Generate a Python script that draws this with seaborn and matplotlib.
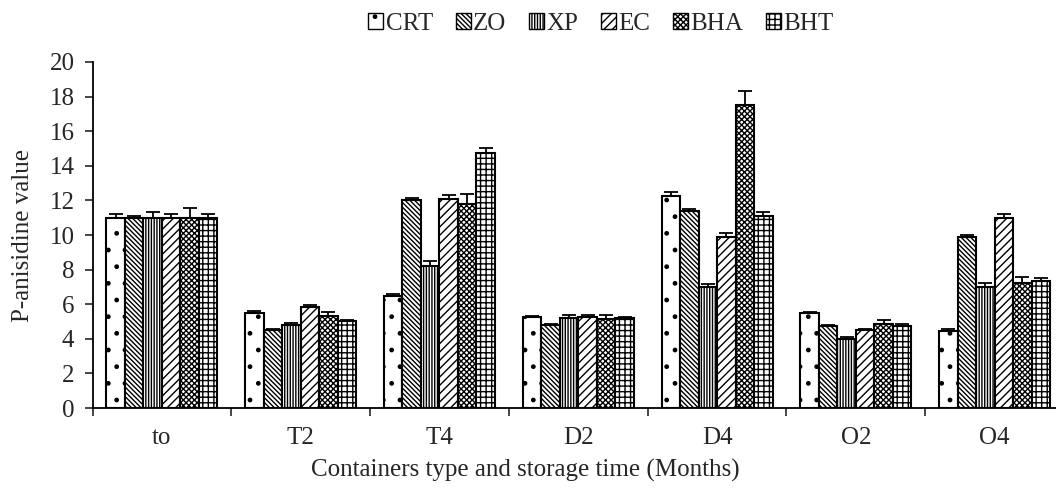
import numpy as np
import pandas as pd
import matplotlib.pyplot as plt
import matplotlib.patches as mpatches
import seaborn as sns

# Values
groups = ["to", "T2", "T4", "D2", "D4", "O2", "O4"]
treatments = ["CRT", "ZO", "XP", "EC", "BHA", "BHT"]

crt = [11.0, 5.5, 6.5, 5.24, 12.25, 5.47, 4.47]
zo = [11.0, 4.5, 12.0, 4.78, 11.4, 4.74, 9.9]
xp = [11.0, 4.78, 8.23, 5.22, 6.98, 4.01, 7.0]
ec = [11.0, 5.84, 12.1, 5.28, 9.88, 4.49, 11.0]
bha = [11.0, 5.32, 11.77, 5.14, 17.5, 4.84, 7.2]
bht = [11.0, 5.01, 14.76, 5.2, 11.1, 4.76, 7.35]

crt_err = [0.23, 0.11, 0.1, 0.08, 0.23, 0.1, 0.08]
zo_err = [0.12, 0.05, 0.12, 0.05, 0.1, 0.05, 0.12]
xp_err = [0.33, 0.12, 0.27, 0.17, 0.2, 0.11, 0.2]
ec_err = [0.23, 0.1, 0.23, 0.08, 0.22, 0.06, 0.23]
bha_err = [0.54, 0.25, 0.58, 0.25, 0.83, 0.25, 0.38]
bht_err = [0.23, 0.1, 0.29, 0.06, 0.23, 0.07, 0.15]

values = [crt, zo, xp, ec, bha, bht]
errors = [crt_err, zo_err, xp_err, ec_err, bha_err, bht_err]
hatches = ['.', '\\' * 7, '|' * 6, '/' * 4, 'x' * 6, '+++']

df = pd.DataFrame({
    "group": groups * len(treatments),
    "treatment": [t for t in treatments for _ in groups],
    "value": [v for vals in values for v in vals],
})

sns.set_style("ticks")
plt.rcParams['font.family'] = ['Liberation Serif', 'DejaVu Serif']
plt.rcParams['hatch.linewidth'] = 1.0

fig = plt.figure(figsize=(10.56, 4.94), dpi=100)
ax = fig.add_axes([0.0876, 0.174, 0.920, 0.7005])

sns.barplot(data=df, x="group", y="value", hue="treatment", order=groups,
            hue_order=treatments, palette=["white"] * 6, edgecolor="black",
            linewidth=1.5, width=0.8, errorbar=None, legend=False, ax=ax)

# hatches and upper error bars
for container, h, err in zip(ax.containers, hatches, errors):
    xs, ys = [], []
    for bar in container:
        bar.set_hatch(h)
        xs.append(bar.get_x() + bar.get_width() / 2)
        ys.append(bar.get_height())
    ax.errorbar(xs, ys, yerr=[np.zeros(len(err)), err], fmt='none',
                ecolor='black', elinewidth=1.3, capsize=5, capthick=1.3)

ax.set_ylim(0, 20)
ax.set_yticks(range(0, 21, 2))
ax.set_xlim(-0.5, len(groups) - 0.5)
ax.set_xticks(np.arange(-0.5, len(groups)), minor=True)
ax.tick_params(axis='x', which='major', length=0, labelsize=18, pad=14)
ax.tick_params(axis='x', which='minor', length=6, width=1.2, direction='out')
ax.tick_params(axis='y', length=6, width=1.2, labelsize=18, direction='out', pad=7)
for side in ['top', 'right']:
    ax.spines[side].set_visible(False)
for side in ['left', 'bottom']:
    ax.spines[side].set_linewidth(1.3)
    ax.spines[side].set_color('black')

ax.set_ylabel("P-anisidine value", fontsize=18)
ax.set_xlabel("Containers type and storage time (Months)", fontsize=18)
ax.yaxis.set_label_coords(-0.06, 0.5)
ax.xaxis.set_label_coords(0.445, -0.148)

handles = [mpatches.Patch(facecolor='white', edgecolor='black', hatch=h, label=t)
           for h, t in zip(hatches, treatments)]
fig.legend(handles=handles, loc='upper center', bbox_to_anchor=(0.569, 1.02),
           ncol=6, frameon=False, handlelength=0.6, handleheight=0.6,
           handletextpad=0.1, columnspacing=0.9, fontsize=18)

fig.savefig("out.png", dpi=100)
